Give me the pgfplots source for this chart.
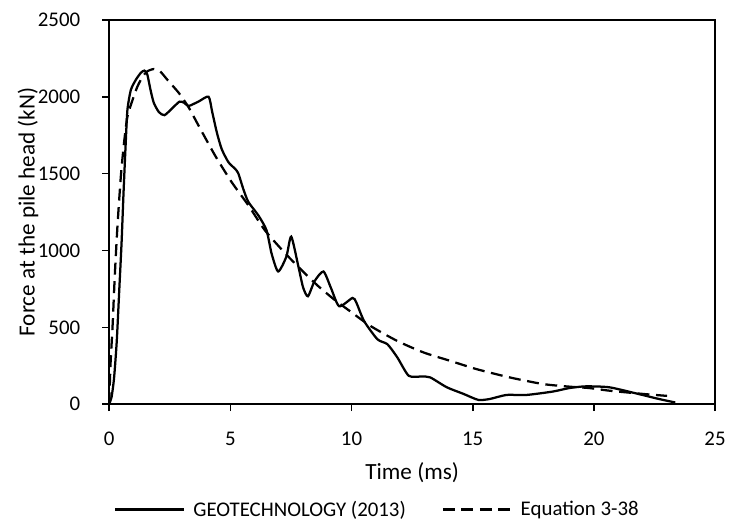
\documentclass[border=0pt]{standalone}
\usepackage{fontspec}
\setmainfont{Carlito}
\usepackage{pgfplots}
\pgfplotsset{compat=1.18}
\pgfplotstableread{
t F
0 0
0.1 50
0.2 172
0.31 409
0.41 731
0.51 1054
0.59 1376
0.68 1699
0.75 1914
0.89 2043
1.09 2108
1.3 2155
1.45 2170
1.57 2145
1.71 2040
1.84 1960
2.05 1900
2.28 1880
2.6 1925
2.9 1968
3.1 1960
3.28 1940
3.7 1970
4.1 2000
4.25 1900
4.44 1768
4.64 1660
4.92 1574
5.2 1530
5.33 1500
5.53 1401
5.74 1316
6.15 1229
6.49 1132
6.7 980
6.97 863
7.31 960
7.51 1090
7.8 900
8.0 760
8.2 702
8.47 799
8.84 863
9.15 756
9.49 637
10.04 691
10.2 660
10.52 540
11.07 422
11.48 390
11.89 304
12.36 185
12.9 180
13.25 174
13.93 110
14.62 67
15.23 28
15.71 34
16.39 60
17.21 60
18.3 82
18.99 105
19.67 116
20.63 110
21.72 71
22.68 34
23.36 11
}\geotech
\pgfplotstableread{
t F
0 0
0.05 250
0.14 516
0.23 839
0.34 1161
0.48 1484
0.61 1699
0.75 1871
0.96 1978
1.16 2065
1.37 2129
1.57 2165
1.84 2180
2.1 2165
2.4 2110
2.87 2025
3.28 1930
3.69 1811
4.37 1617
5.05 1445
5.74 1294
6.42 1132
7.24 985
7.95 870
8.61 770
9.29 680
9.84 616
10.79 508
11.89 411
12.98 336
14.07 282
15.16 228
16.53 174
17.9 131
18.99 114
19.81 105
20.63 88
22 67
23.02 54
}\equation
\begin{document}
\begin{tikzpicture}
\begin{axis}[name=ax, scale only axis, width=457.5pt, height=290.25pt,
  xmin=0, xmax=25, ymin=0, ymax=2500,
  xtick={0,5,...,25}, ytick={0,500,...,2500},
  tick align=outside, xtick pos=bottom, ytick pos=left,
  major tick length=5.25pt,
  axis line style={line width=1.2pt},
  every tick/.style={black, line width=1.2pt},
  /pgf/number format/assume math mode=true,
  /pgf/number format/1000 sep={},
  scaled ticks=false,
  tick label style={font=\fontsize{15.75}{18}\selectfont},
  xticklabel style={anchor=center, yshift=-21pt},
  yticklabel style={anchor=east, inner sep=0pt, xshift=-16.5pt},
  label style={font=\fontsize{17.5}{20}\selectfont},
  xlabel={Time (ms)},
  ylabel={Force at the pile head (kN)},
  xlabel style={at={(axis description cs:0.5,-0.178)}, anchor=center},
  ylabel style={at={(axis description cs:-0.134,0.5)}, anchor=center},
  clip=false,
  legend style={at={(0.4434,-0.274)}, anchor=center, draw=none,
    font=\fontsize{15.75}{18}\selectfont, legend columns=2,
    /tikz/every odd column/.append style={column sep=4pt},
    /tikz/every even column/.append style={column sep=25pt}},
  legend image code/.code={\draw[#1] (0pt,0pt) -- (52pt,0pt);},
]
\addplot[black, line width=1.7pt, smooth, tension=0.4] table[x=t,y=F]{\geotech};
\addlegendentry{GEOTECHNOLOGY (2013)}
\addplot[black, line width=1.7pt, smooth, tension=0.4, dash pattern=on 9pt off 5pt] table[x=t,y=F]{\equation};
\addlegendentry{Equation 3-38}
\end{axis}
\path (ax.south west) ++(-82.5pt,-88.5pt) rectangle ++(547.5pt,393.75pt);
\end{tikzpicture}
\end{document}
